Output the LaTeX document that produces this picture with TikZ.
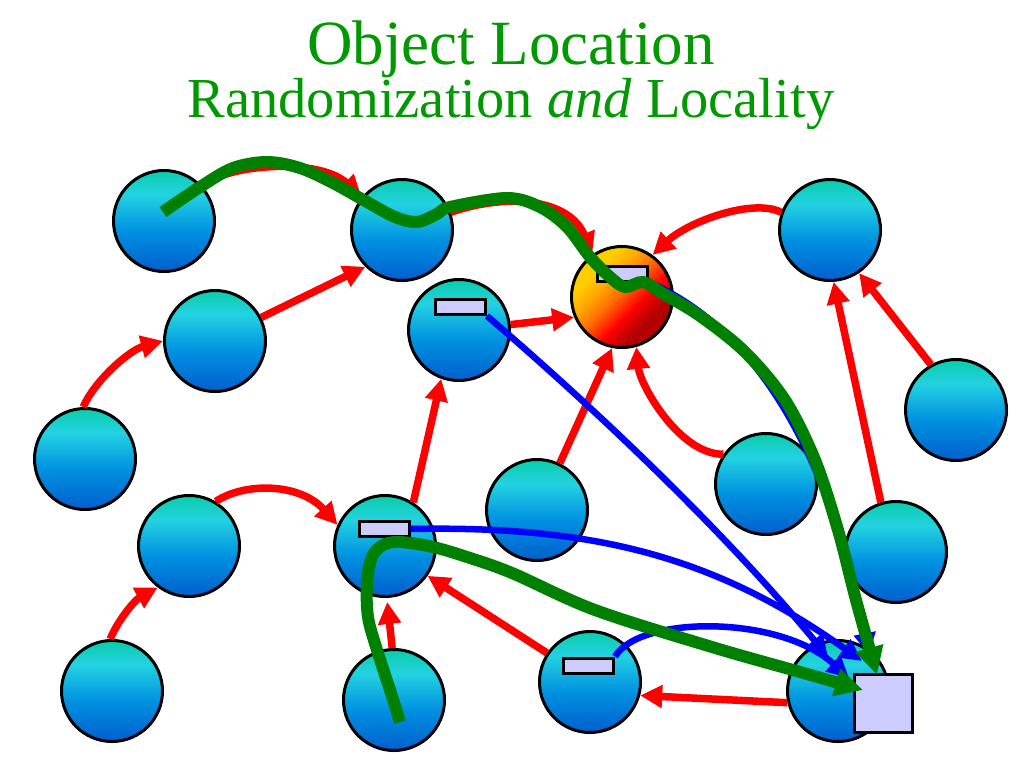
\documentclass[tikz,border=0pt]{standalone}
\usepackage{fontspec}
\setmainfont{Liberation Serif}
\usetikzlibrary{arrows.meta}
\definecolor{ttlgreen}{RGB}{0,153,0}
\definecolor{pathgreen}{RGB}{0,128,0}
\definecolor{lav}{RGB}{204,204,255}
\definecolor{ballbot}{RGB}{0,95,205}
\definecolor{balllow}{RGB}{0,145,225}
\definecolor{ballcyan}{RGB}{35,210,225}
\definecolor{balltop}{RGB}{10,205,170}
\definecolor{hotdark}{RGB}{180,0,0}
\definecolor{hotred}{RGB}{255,0,0}
\definecolor{hotorange}{RGB}{255,110,0}
\definecolor{hotamber}{RGB}{255,165,0}
\definecolor{hotyellow}{RGB}{255,205,0}
\pgfdeclareverticalshading{ballshade}{100bp}{color(0bp)=(ballbot); color(25bp)=(ballbot); color(45bp)=(balllow); color(63bp)=(ballcyan); color(75bp)=(balltop); color(100bp)=(balltop)}
\pgfdeclareverticalshading{hotshade}{100bp}{color(0bp)=(hotdark); color(33bp)=(hotdark); color(42bp)=(hotred); color(52bp)=(hotorange); color(60bp)=(hotamber); color(68bp)=(hotyellow); color(100bp)=(hotyellow)}
\begin{document}
\begin{tikzpicture}[x=1pt,y=-1pt,
  ball/.style={circle, draw=black, line width=3pt, minimum size=101pt, inner sep=0pt, shade, shading=ballshade},
  hotball/.style={circle, draw=black, line width=3pt, minimum size=101pt, inner sep=0pt, shade, shading=hotshade, shading angle=45},
  tag/.style={rectangle, draw=black, line width=3pt, fill=lav, minimum width=50pt, minimum height=15pt, inner sep=0pt},
  objbox/.style={rectangle, draw=black, line width=3pt, fill=lav, minimum size=58pt, inner sep=0pt},
  redarr/.style={red, line width=7.5pt, -{Triangle[length=22pt,width=22pt]}},
  bluearr/.style={blue, line width=6.5pt, -{Triangle[length=22pt,width=21pt]}},
  greenarr/.style={pathgreen, line width=12pt, -{Triangle[length=28pt,width=27pt]}},
  ttl/.style={anchor=base, text=ttlgreen, inner sep=0pt}]
\fill[white] (0,0) rectangle (1024,768);
\useasboundingbox (0,0) rectangle (1024,768);
% title
\node[ttl, font=\fontsize{63}{70}\selectfont] (title1) at (511,64) {Object Location};
\node[ttl, font=\fontsize{56.5}{64}\selectfont] (title2) at (511,117) {Randomization \textit{and} Locality};
% nodes
\node[ball] (c1) at (164,221) {};
\node[ball] (c2) at (402,230) {};
\node[ball] (c3) at (215,341) {};
\node[ball] (c4) at (85,459) {};
\node[ball] (c5) at (459,330) {};
\node[hotball] (c6) at (622,297) {};
\node[ball] (c7) at (830,230) {};
\node[ball] (c8) at (956,410) {};
\node[ball] (c9) at (766,484) {};
\node[ball] (c10) at (537,510) {};
\node[ball] (c11) at (189,546) {};
\node[ball] (c12) at (385,546) {};
\node[ball] (c13) at (896,552) {};
\node[ball] (c14) at (112,691) {};
\node[ball] (c15) at (394,700) {};
\node[ball] (c16) at (590,682) {};
\node[ball] (c17) at (838,691) {};
\node[objbox] (sq) at (883.5,703.5) {};
\node[tag] (r5) at (460.5,307) {};
\node[tag] (r6) at (622.5,273.5) {};
\node[tag] (r12) at (384,529) {};
\node[tag] (r16) at (588.5,665.5) {};
% arrow ends near the object
\coordinate (b1end) at (828,657);
\coordinate (b2end) at (862,661);
\coordinate (b3end) at (849,678);
\coordinate (b4end) at (869,655);
\coordinate (g1start) at (163,212);
\coordinate (g1end) at (877,675);
\coordinate (g2start) at (400,722);
\coordinate (g2end) at (863,690);
% red routing arrows
\draw[redarr] (c1.42) .. controls (228,163) and (320,158) .. (c2.141);
\draw[redarr] (c2.20) .. controls (510,192) and (570,200) .. (c6.125);
\draw[redarr] (c3.27) -- (c2.225);
\draw[redarr] (c4.92) .. controls (95,380) and (130,350) .. (c3.180);
\draw[redarr] (c5.6) -- (c6.203);
\draw[redarr] (c7.160) .. controls (752,198) and (688,222) .. (c6.54);
\draw[redarr] (c8.119) -- (c7.-56);
\draw[redarr] (c13.107) -- (c7.-86);
\draw[redarr] (c10.64) -- (c6.-101);
\draw[redarr] (c9.145) .. controls (680,455) and (640,385) .. (c6.-74);
\draw[redarr] (c12.57) -- (c5.-110);
\draw[redarr] (c11.59) .. controls (245,482) and (300,483) .. (c12.156);
\draw[redarr] (c14.92) .. controls (118,620) and (135,600) .. (c11.233);
\draw[redarr, shorten >=4pt] (c15.92) -- (c12.-88);
\draw[redarr] (c16.146) -- (c12.-35);
\draw[redarr] (c17.193) -- (c16.-15);
% blue pointers
\draw[bluearr] (r5.south east) .. controls (620,430) and (740,550) .. (b1end);
\draw[bluearr] (r12.east) .. controls (600,525) and (720,560) .. (b2end);
\draw[bluearr] (r16.north east) .. controls (640,615) and (780,615) .. (b3end);
\draw[bluearr] (r6.south east) .. controls (760,330) and (830,460) .. (b4end);
% green query paths
\draw[greenarr] plot[smooth, tension=0.55] coordinates {(g1start) (200,187) (233,168) (267,162) (300,168) (333,183) (367,202) (395,217) (417,222) (437,214) (450,207) (507,198) (540,207) (567,227) (590,257) (610,277) (625,287) (643,282) (662,293) (700,316) (745,352) (785,400) (815,460) (838,530) (856,600) (g1end)};
\draw[greenarr] plot[smooth, tension=0.55] coordinates {(g2start) (390,690) (377,650) (368,617) (367,583) (372,557) (383,545) (400,542) (433,547) (467,557) (512,573) (595,610) (712,647) (800,672) (g2end)};
\end{tikzpicture}
\end{document}
